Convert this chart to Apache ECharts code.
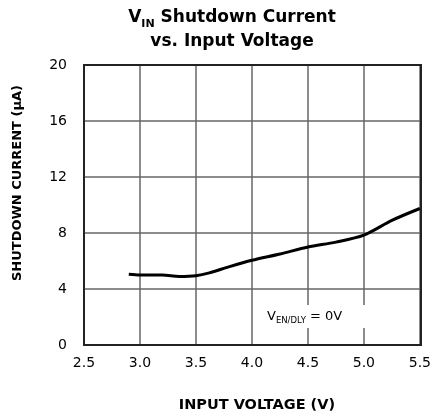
<!DOCTYPE html>
<html>
<head>
<meta charset="utf-8">
<script src="https://cdn.jsdelivr.net/npm/echarts@6/dist/echarts.min.js"></script>
<style>html,body{margin:0;padding:0;background:#fff}#c{width:434px;height:419px}</style>
</head>
<body>
<div id="c"></div>
<script>
const voltage = [2.9, 3.0, 3.2, 3.35, 3.5, 3.62, 3.8, 4.0, 4.25, 4.5, 4.75, 5.0, 5.25, 5.5];
const current = [5.05, 5.0, 5.0, 4.9, 4.95, 5.15, 5.6, 6.05, 6.5, 7.0, 7.35, 7.85, 8.9, 9.75];
const xTicks = [2.5, 3.0, 3.5, 4.0, 4.5, 5.0, 5.5];
const yTicks = [0, 4, 8, 12, 16, 20];

const FONT = 'DejaVu Sans, sans-serif';
const chart = echarts.init(document.getElementById('c'));
chart.setOption({
  animation: false,
  title: {
    text: '{b|V}{s|IN}{b| Shutdown Current}\n{b|vs. Input Voltage}',
    left: 227, top: 1, textAlign: 'center',
    textStyle: {
      fontFamily: FONT, lineHeight: 24,
      rich: {
        b: {fontFamily: FONT, fontSize: 17, fontWeight: 'bold', color: '#000', lineHeight: 24},
        s: {fontFamily: FONT, fontSize: 11, fontWeight: 'bold', color: '#000', verticalAlign: 'bottom', lineHeight: 24, padding: [6,0,0,0]}
      }
    }
  },
  grid: {left: 84, right: 13, top: 65, bottom: 74},
  xAxis: {
    type: 'value', min: 2.5, max: 5.5, interval: 0.5,
    name: 'INPUT VOLTAGE (V)', nameLocation: 'middle', nameGap: 53,
    nameTextStyle: {fontFamily: FONT, fontSize: 14.5, fontWeight: 'bold', color: '#000', padding: [0,0,0,10]},
    axisLine: {show: false},
    axisTick: {show: false},
    axisLabel: {fontFamily: FONT, fontSize: 14, color: '#000', margin: 11,
      formatter: v => xTicks.includes(+v.toFixed(1)) ? v.toFixed(1) : ''},
    splitLine: {show: true, lineStyle: {color: '#666', width: 1.5}}
  },
  yAxis: {
    type: 'value', min: 0, max: 20, interval: 4,
    name: 'SHUTDOWN CURRENT (µA)', nameLocation: 'middle', nameGap: 60,
    nameTextStyle: {fontFamily: FONT, fontSize: 13, fontWeight: 'bold', color: '#000', padding: [0,0,0,44]},
    axisLine: {show: false},
    axisTick: {show: false},
    axisLabel: {fontFamily: FONT, fontSize: 14, color: '#000', margin: 17,
      formatter: v => yTicks.includes(v) ? String(v) : ''},
    splitLine: {show: true, lineStyle: {color: '#666', width: 1.5}}
  },
  series: [{
    type: 'line',
    data: voltage.map((v, i) => [v, current[i]]),
    smooth: 0.3,
    showSymbol: false,
    lineStyle: {color: '#000', width: 3},
    z: 5
  }],
  graphic: [
    {type: 'rect', shape: {x: 255, y: 305, width: 115, height: 23}, style: {fill: '#fff'}, z: 10},
    {type: 'text', x: 267, y: 317, z: 11,
      style: {
        text: '{n|V}{s|EN/DLY}{n| = 0V}', verticalAlign: 'middle',
        rich: {
          n: {fontFamily: FONT, fontSize: 13, fill: '#000'},
          s: {fontFamily: FONT, fontSize: 8.5, fill: '#000', padding: [7,0,0,0]}
        }
      }},
    {type: 'rect', shape: {x: 84, y: 65, width: 337, height: 280}, style: {fill: 'none', stroke: '#222', lineWidth: 2}, z: 12}
  ]
});
</script>
</body>
</html>
